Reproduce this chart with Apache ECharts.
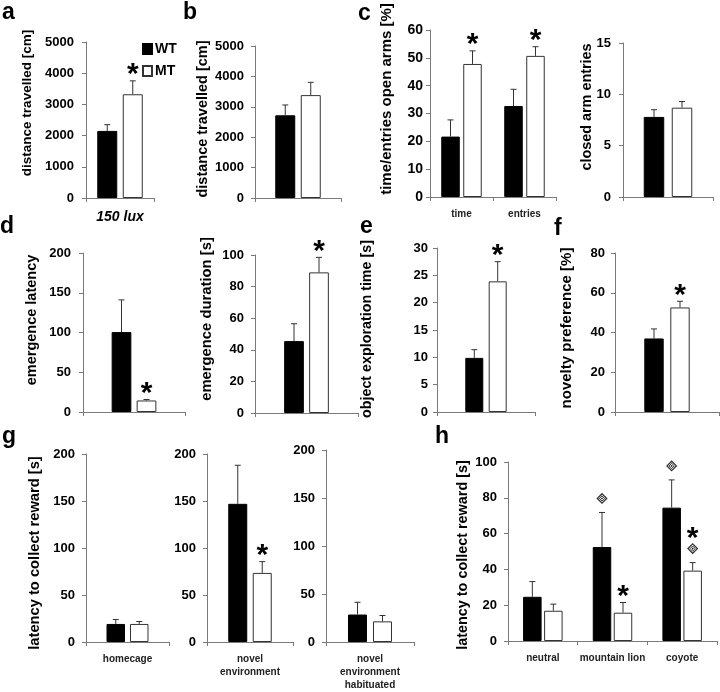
<!DOCTYPE html>
<html><head><meta charset="utf-8">
<script src="https://cdn.jsdelivr.net/npm/echarts@6/dist/echarts.min.js"></script>
<style>html,body{margin:0;padding:0;background:#fff}#c{width:720px;height:692px}</style>
</head><body><div id="c"></div>
<script>
// ================= DATA =================
// a: open field distance (150 lux)
const catsA = ['150 lux'];
const wtA = [2150], wtErrA = [200];
const mtA = [3325], mtErrA = [430];
const mtStarA = [1];
const ticksA = [0, 1000, 2000, 3000, 4000, 5000];

// b: distance travelled
const catsB = [''];
const wtB = [2720], wtErrB = [340];
const mtB = [3385], mtErrB = [420];
const mtStarB = [0];
const ticksB = [0, 1000, 2000, 3000, 4000, 5000];

// c (left): time / entries open arms
const catsC1 = ['time', 'entries'];
const wtC1 = [21.7, 32.7], wtErrC1 = [6.0, 6.0];
const mtC1 = [47.8, 50.7], mtErrC1 = [4.7, 3.3];
const mtStarC1 = [1, 1];
const ticksC1 = [0, 10, 20, 30, 40, 50, 60];

// c (right): closed arm entries
const catsC2 = [''];
const wtC2 = [7.8], wtErrC2 = [0.7];
const mtC2 = [8.7], mtErrC2 = [0.6];
const mtStarC2 = [0];
const ticksC2 = [0, 5, 10, 15];

// d (left): emergence latency
const catsD1 = [''];
const wtD1 = [100.5], wtErrD1 = [40.5];
const mtD1 = [14.5], mtErrD1 = [1.2];
const mtStarD1 = [1];
const ticksD1 = [0, 50, 100, 150, 200];

// d (right): emergence duration
const catsD2 = [''];
const wtD2 = [45.5], wtErrD2 = [11.0];
const mtD2 = [89.0], mtErrD2 = [9.5];
const mtStarD2 = [1];
const ticksD2 = [0, 20, 40, 60, 80, 100];

// e: object exploration time
const catsE = [''];
const wtE = [9.9], wtErrE = [1.5];
const mtE = [23.9], mtErrE = [3.6];
const mtStarE = [1];
const ticksE = [0, 5, 10, 15, 20, 25, 30];

// f: novelty preference
const catsF = [''];
const wtF = [37.0], wtErrF = [4.8];
const mtF = [52.6], mtErrF = [3.1];
const mtStarF = [1];
const ticksF = [0, 20, 40, 60, 80];

// g: latency to collect reward
const catsG1 = ['homecage'];
const wtG1 = [19.2], wtErrG1 = [4.7];
const mtG1 = [19.2], mtErrG1 = [2.6];
const mtStarG1 = [0];
const catsG2 = ['novel\nenvironment'];
const wtG2 = [147], wtErrG2 = [41];
const mtG2 = [73.5], mtErrG2 = [12];
const mtStarG2 = [1];
const catsG3 = ['novel\nenvironment\nhabituated'];
const wtG3 = [28.6], wtErrG3 = [12.8];
const mtG3 = [21.5], mtErrG3 = [6.1];
const mtStarG3 = [0];
const ticksG = [0, 50, 100, 150, 200];

// h: predator odour
const catsH = ['neutral', 'mountain lion', 'coyote'];
const wtH = [24.7, 52.5, 74.5], wtErrH = [8.5, 19.3, 15.5];
const mtH = [16.9, 15.8, 39.3], mtErrH = [3.7, 5.7, 4.5];
const mtStarH = [0, 1, 1];
const wtDiaH = [0, 1, 1];
const mtDiaH = [0, 0, 1];
const ticksH = [0, 20, 40, 60, 80, 100];

// ================= LAYOUT / STYLE =================
const FONT = '"Liberation Sans", Arial, Helvetica, sans-serif';
const AX = '#7a7a7a';
const ERR = '#333';

const panels = [
  {cats:catsA, wt:wtA, wtErr:wtErrA, mt:mtA, mtErr:mtErrA, ticks:ticksA, mtStar:mtStarA,
   grid:{left:86, top:42, width:68, height:156}, bw:20, gap:5.5, yFont:13, yMargin:12,
   xLabel:{fontStyle:'italic', fontSize:14, color:'#000', margin:13},
   name:{text:'distance travelled [cm]', x:27, y:103, size:13.5}},
  {cats:catsB, wt:wtB, wtErr:wtErrB, mt:mtB, mtErr:mtErrB, ticks:ticksB, mtStar:mtStarB,
   grid:{left:255, top:46, width:86, height:152}, bw:20, gap:5.5, yFont:13, yMargin:11,
   name:{text:'distance travelled [cm]', x:203, y:119, size:14.5}},
  {cats:catsC1, wt:wtC1, wtErr:wtErrC1, mt:mtC1, mtErr:mtErrC1, ticks:ticksC1, mtStar:mtStarC1,
   grid:{left:430, top:30, width:126, height:167}, bw:18.5, gap:3.5, yFont:14, yMargin:7,
   name:{text:'time/entries open arms [%]', x:387, y:99, size:15}},
  {cats:catsC2, wt:wtC2, wtErr:wtErrC2, mt:mtC2, mtErr:mtErrC2, ticks:ticksC2, mtStar:mtStarC2,
   grid:{left:623, top:43, width:90, height:154}, bw:20.5, gap:7.5, yFont:13, yMargin:12,
   name:{text:'closed arm entries', x:587, y:107, size:14.4}},
  {cats:catsD1, wt:wtD1, wtErr:wtErrD1, mt:mtD1, mtErr:mtErrD1, ticks:ticksD1, mtStar:mtStarD1,
   grid:{left:83, top:253, width:102, height:159}, bw:19.7, gap:5.3, yFont:13, yMargin:12,
   name:{text:'emergence latency', x:32, y:320, size:14.5}},
  {cats:catsD2, wt:wtD2, wtErr:wtErrD2, mt:mtD2, mtErr:mtErrD2, ticks:ticksD2, mtStar:mtStarD2,
   grid:{left:255, top:255, width:103, height:158}, bw:19.7, gap:5.3, yFont:13, yMargin:11,
   name:{text:'emergence duration [s]', x:207, y:319, size:14.8}},
  {cats:catsE, wt:wtE, wtErr:wtErrE, mt:mtE, mtErr:mtErrE, ticks:ticksE, mtStar:mtStarE,
   grid:{left:437, top:248, width:98, height:164}, bw:18, gap:5.4, yFont:13, yMargin:9,
   name:{text:'object exploration time [s]', x:367, y:329, size:14.3}},
  {cats:catsF, wt:wtF, wtErr:wtErrF, mt:mtF, mtErr:mtErrF, ticks:ticksF, mtStar:mtStarF,
   grid:{left:615, top:253, width:104, height:159}, bw:19.4, gap:6.6, yFont:13, yMargin:10,
   name:{text:'novelty preference [%]', x:567, y:328, size:15}},
  {cats:catsG1, wt:wtG1, wtErr:wtErrG1, mt:mtG1, mtErr:mtErrG1, ticks:ticksG, mtStar:mtStarG1,
   grid:{left:86, top:454, width:83, height:188}, bw:18.5, gap:5, yFont:13, yMargin:11,
   name:{text:'latency to collect reward [s]', x:35, y:553, size:14.7}},
  {cats:catsG2, wt:wtG2, wtErr:wtErrG2, mt:mtG2, mtErr:mtErrG2, ticks:ticksG, mtStar:mtStarG2,
   grid:{left:207, top:454, width:86, height:188}, bw:19, gap:5.5, yFont:13, yMargin:11},
  {cats:catsG3, wt:wtG3, wtErr:wtErrG3, mt:mtG3, mtErr:mtErrG3, ticks:ticksG, mtStar:mtStarG3,
   grid:{left:326, top:450, width:88, height:193}, bw:19, gap:6, yFont:13, yMargin:11},
  {cats:catsH, wt:wtH, wtErr:wtErrH, mt:mtH, mtErr:mtErrH, ticks:ticksH, mtStar:mtStarH,
   wtDia:wtDiaH, mtDia:mtDiaH,
   grid:{left:508, top:462, width:209, height:179}, bw:18.5, gap:2.5, yFont:13, yMargin:11,
   name:{text:'latency to collect reward [s]', x:463, y:555, size:14.4}}
];

const letters = [
  {t:'a', x:2, y:24}, {t:'b', x:183, y:24}, {t:'c', x:358, y:25},
  {t:'d', x:0, y:238}, {t:'e', x:360, y:238}, {t:'f', x:554, y:240},
  {t:'g', x:2, y:448}, {t:'h', x:435, y:448}
];

function diamond(x, y) {
  const o = 4.7, i = 2.6, d = 1.1;
  return {type:'group', children:[
    {type:'polygon', shape:{points:[[x, y-o],[x+o, y],[x, y+o],[x-o, y]]}, style:{fill:'#fff', stroke:'#333', lineWidth:1.3}},
    {type:'polygon', shape:{points:[[x, y-i],[x+i, y],[x, y+i],[x-i, y]]}, style:{fill:'#fff', stroke:'#333', lineWidth:1}},
    {type:'polygon', shape:{points:[[x, y-d],[x+d, y],[x, y+d],[x-d, y]]}, style:{fill:'#111'}}
  ]};
}

function makeRender(p) {
  return function (params, api) {
    const ci = api.value(0), g = api.value(1), m = api.value(2), e = api.value(3);
    const star = api.value(4), dia = api.value(5);
    const base = api.coord([ci, m]);
    const cap = api.coord([ci, m + e]);
    const x = base[0] + (g === 0 ? -1 : 1) * (p.bw + p.gap) / 2;
    const children = [
      {type:'line', shape:{x1:x, y1:base[1], x2:x, y2:cap[1]}, style:{stroke:ERR, lineWidth:1}},
      {type:'line', shape:{x1:x - 3, y1:cap[1], x2:x + 3, y2:cap[1]}, style:{stroke:ERR, lineWidth:1}}
    ];
    let y = cap[1];
    if (dia) { y -= 14; children.push(diamond(x, y)); y -= 4; }
    if (star) {
      children.push({type:'text', x:x, y:y - 13 + 7,
        style:{text:'*', fill:'#000', font:'bold 30px ' + FONT, align:'center', verticalAlign:'middle'}});
    }
    return {type:'group', children};
  };
}

const grids = [], xAxes = [], yAxes = [], series = [], graphics = [];
panels.forEach((p, i) => {
  grids.push(Object.assign({containLabel:false}, p.grid));
  const xl = p.xLabel || {};
  xAxes.push({type:'category', gridIndex:i, data:p.cats,
    axisLine:{lineStyle:{color:AX, width:1}},
    axisTick:{show:true, length:4, interval:0, lineStyle:{color:AX}},
    axisLabel:{interval:0, fontFamily:FONT, fontWeight:'bold', fontStyle:xl.fontStyle || 'normal',
      fontSize:xl.fontSize || 10, color:xl.color || '#222', margin:xl.margin || 11, lineHeight:13}});
  yAxes.push({type:'value', gridIndex:i, min:p.ticks[0], max:p.ticks[p.ticks.length - 1],
    interval:p.ticks[1] - p.ticks[0], splitLine:{show:false},
    axisLine:{show:true, lineStyle:{color:AX, width:1}},
    axisTick:{show:true, length:4, lineStyle:{color:AX}},
    axisLabel:{fontFamily:FONT, fontWeight:'bold', fontSize:p.yFont, color:'#000', margin:p.yMargin,
      formatter:function (v) { return String(v); }}});
  const gapPct = (p.gap / p.bw * 100).toFixed(1) + '%';
  series.push({type:'bar', name:'WT', xAxisIndex:i, yAxisIndex:i, data:p.wt, barWidth:p.bw, barGap:gapPct,
    itemStyle:{color:'#000', borderColor:'#000', borderWidth:1}, silent:true, animation:false});
  series.push({type:'bar', name:'MT', xAxisIndex:i, yAxisIndex:i, data:p.mt, barWidth:p.bw, barGap:gapPct,
    itemStyle:{color:'#fff', borderColor:'#333', borderWidth:1}, silent:true, animation:false});
  const cd = [];
  p.cats.forEach((c, k) => {
    cd.push([k, 0, p.wt[k], p.wtErr[k], 0, p.wtDia ? p.wtDia[k] : 0]);
    cd.push([k, 1, p.mt[k], p.mtErr[k], p.mtStar[k], p.mtDia ? p.mtDia[k] : 0]);
  });
  series.push({type:'custom', xAxisIndex:i, yAxisIndex:i, data:cd, renderItem:makeRender(p),
    encode:{x:0, y:2}, clip:false, silent:true, animation:false, z:5});
  if (p.name) {
    graphics.push({type:'text', x:p.name.x, y:p.name.y, rotation:Math.PI / 2,
      style:{text:p.name.text, fill:'#000', font:'bold ' + p.name.size + 'px ' + FONT,
        align:'center', verticalAlign:'middle'}});
  }
});
letters.forEach(l => graphics.push({type:'text', x:l.x, y:l.y,
  style:{text:l.t, fill:'#000', font:'bold 23px ' + FONT, align:'left', verticalAlign:'bottom'}}));

const chart = echarts.init(document.getElementById('c'), null, {renderer:'canvas'});
chart.setOption({
  backgroundColor:'#fff',
  animation:false,
  grid:grids, xAxis:xAxes, yAxis:yAxes, series:series, graphic:graphics,
  legend:{data:['WT', 'MT'], orient:'vertical', left:142, top:42, itemWidth:9, itemHeight:10, itemGap:8,
    selectedMode:false, icon:'rect', padding:0,
    textStyle:{fontFamily:FONT, fontWeight:'bold', fontSize:14, color:'#000', padding:[0,0,0,-2]}}
});
</script></body></html>
